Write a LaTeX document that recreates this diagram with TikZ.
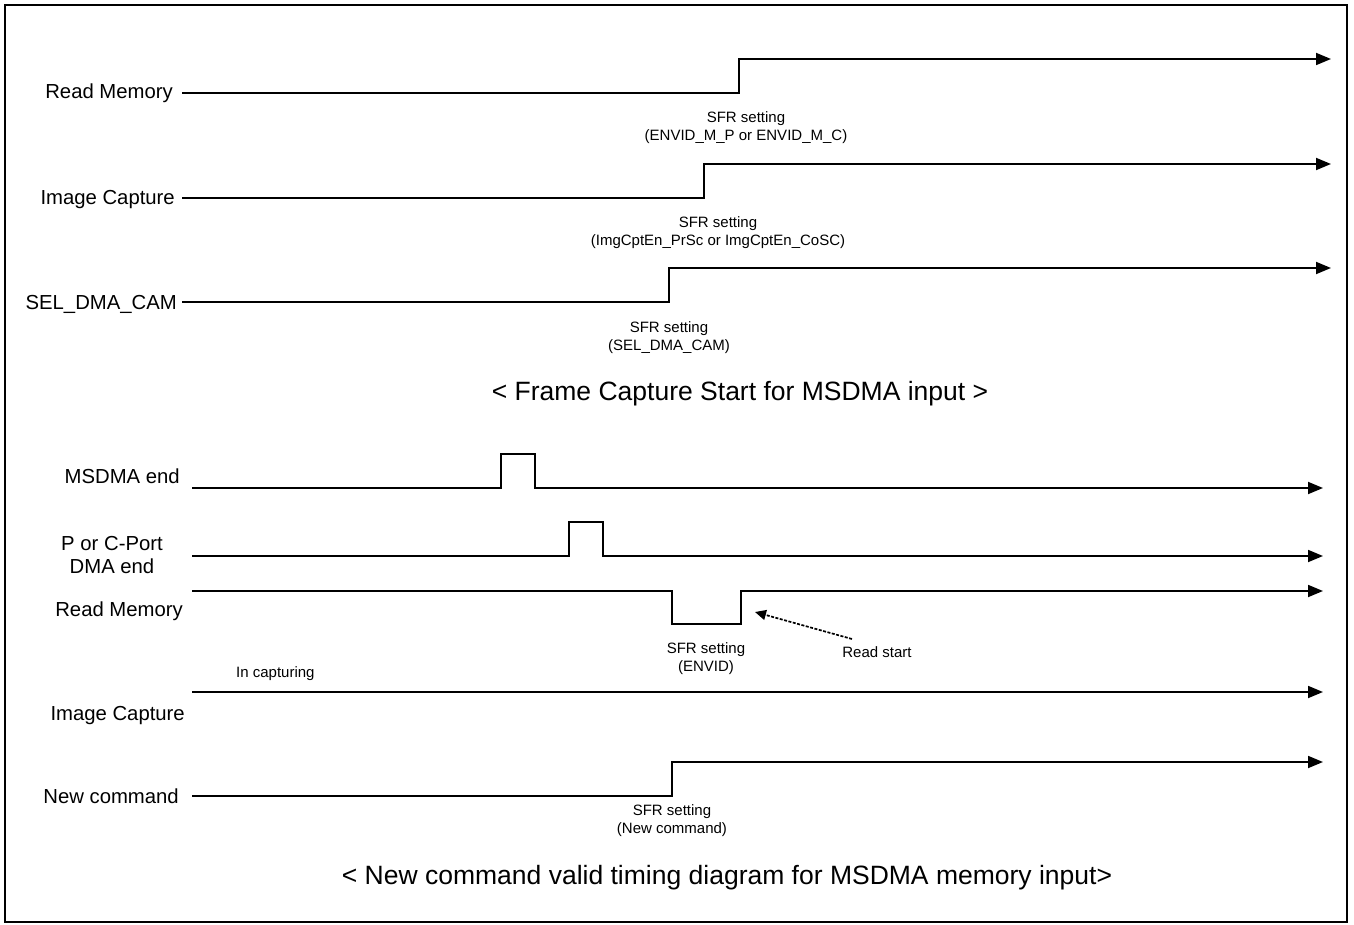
\documentclass[tikz,border=0pt]{standalone}
\usepackage{fontspec}
\setmainfont{Liberation Sans}
\usetikzlibrary{arrows.meta}
\begin{document}
\begin{tikzpicture}[x=1pt,y=-1pt,
  sig/.style={line width=1.8pt, -{Triangle[length=15pt,width=12pt]}},
  lbl/.style={anchor=base east, inner sep=0pt, font=\fontsize{20.3}{23}\selectfont},
  note/.style={align=center, inner sep=0pt, font=\fontsize{15}{18}\selectfont},
  ttl/.style={inner sep=0pt, font=\fontsize{26.5}{30}\selectfont}]
\path[use as bounding box] (0,0) rectangle (1354,925);
\draw[line width=2pt] (5,5) rectangle (1347,922);

% ---- top section ----
\node[lbl] (rm1) at (173,99) {Read Memory};
\node[lbl] (ic1) at (175,205) {Image Capture};
\node[lbl] (sel) at (177,309) {SEL\_DMA\_CAM};

\draw[sig] (182,93) -- (739,93) -- (739,59) -- (1331,59);
\draw[sig] (182,198) -- (704,198) -- (704,164) -- (1331,164);
\draw[sig] (182,302) -- (669,302) -- (669,268) -- (1331,268);

\node[note] (n1) at (746,128) {SFR setting\\(ENVID\_M\_P or ENVID\_M\_C)};
\node[note] (n2) at (718,233) {SFR setting\\(ImgCptEn\_PrSc or ImgCptEn\_CoSC)};
\node[note] (n3) at (669,338) {SFR setting\\(SEL\_DMA\_CAM)};
\node[ttl] (t1) at (740,394) {< Frame Capture Start for MSDMA input >};

% ---- bottom section ----
\node[lbl] (me) at (180,483) {MSDMA end};
\node[align=center, inner sep=0pt, font=\fontsize{20.3}{23}\selectfont] (pc) at (112,555.5) {P or C-Port\\DMA end};
\node[lbl] (rm2) at (183,616) {Read Memory};
\node[lbl] (ic2) at (185,720) {Image Capture};
\node[lbl] (nc) at (179,803) {New command};

\draw[sig] (192,488) -- (501,488) -- (501,454) -- (535,454) -- (535,488) -- (1323,488);
\draw[sig] (192,556) -- (569,556) -- (569,522) -- (603,522) -- (603,556) -- (1323,556);
\draw[sig] (192,591) -- (672,591) -- (672,624) -- (741,624) -- (741,591) -- (1323,591);
\draw[sig] (192,692) -- (1323,692);
\draw[sig] (192,796) -- (672,796) -- (672,762) -- (1323,762);

\node[note] (n4) at (706,658.5) {SFR setting\\(ENVID)};
\node[note] (rs) at (877,652) {Read start};
\coordinate (rsfrom) at (852,639);
\coordinate (rsto) at (755,612);
\draw[line width=1.7pt, dash pattern=on 3pt off 1.5pt, -{Triangle[length=11pt,width=10pt]}] (rsfrom) -- (rsto);
\node[note, anchor=west] (cap) at (236,674) {In capturing};
\node[note] (n5) at (672,821) {SFR setting\\(New command)};
\node[ttl] (t2) at (727,878) {< New command valid timing diagram for MSDMA memory input>};
\end{tikzpicture}
\end{document}
